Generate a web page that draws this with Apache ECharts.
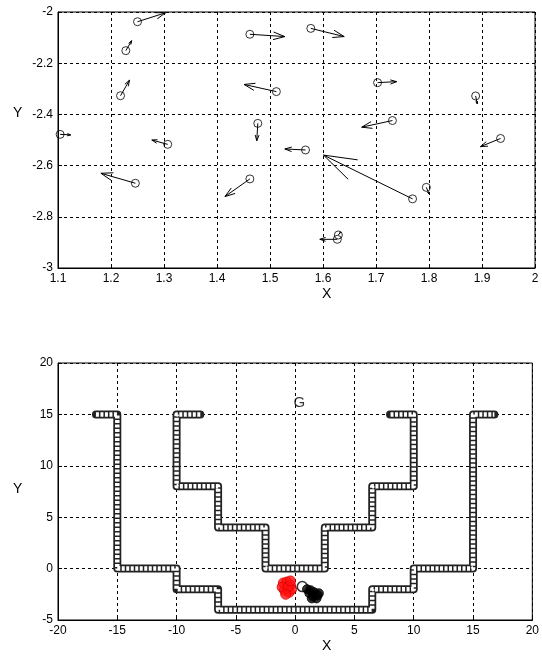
<!DOCTYPE html>
<html>
<head>
<meta charset="utf-8">
<script src="https://cdn.jsdelivr.net/npm/echarts@6/dist/echarts.min.js"></script>
<style>
html, body { margin: 0; padding: 0; background: #fff; }
#main { width: 542px; height: 657px; }
</style>
</head>
<body>
<div id="main"></div>
<script>
"use strict";
// 上图: quiver 点位与箭头终点
var qx   = [1.250, 1.228, 1.218, 1.104, 1.307, 1.462, 1.512, 1.477, 1.246, 1.462, 1.577, 1.703, 1.888, 1.731, 1.935, 1.567, 1.769, 1.795, 1.627, 1.629];
var qy   = [-2.038, -2.151, -2.327, -2.478, -2.517, -2.087, -2.311, -2.435, -2.669, -2.652, -2.064, -2.276, -2.328, -2.424, -2.494, -2.539, -2.730, -2.685, -2.888, -2.871];
var tipX = [1.303, 1.239, 1.235, 1.124, 1.277, 1.528, 1.451, 1.475, 1.181, 1.415, 1.640, 1.739, 1.891, 1.673, 1.897, 1.528, 1.601, 1.800, 1.594, 1.633];
var tipY = [-2.003, -2.112, -2.266, -2.480, -2.500, -2.096, -2.283, -2.503, -2.630, -2.721, -2.096, -2.272, -2.359, -2.450, -2.526, -2.535, -2.559, -2.711, -2.888, -2.860];

// 下图: 墙体折线拐点
var outerX = [-16.8, -15, -15, -10, -10, -6.5, -6.5, 6.5, 6.5, 10, 10, 15, 15, 16.8];
var outerY = [15, 15, 0, 0, -2, -2, -4, -4, -2, -2, 0, 0, 15, 15];
var innerX = [-8, -10, -10, -6.5, -6.5, -2.5, -2.5, 2.5, 2.5, 6.5, 6.5, 10, 10, 8];
var innerY = [15, 15, 8, 8, 4, 4, 0, 0, 4, 4, 8, 8, 15, 15];

// 机器人位置
var redX = [-1.0, -0.7, -0.4, -0.9, -0.5, -1.1, -0.3, -0.6, -0.8, -0.4];
var redY = [-1.4, -1.3, -1.6, -2.1, -2.3, -1.8, -2.0, -1.8, -2.5, -1.2];
var startX = [0.6];
var startY = [-1.75];
var blackX = [1.0, 1.3, 1.6, 1.9, 1.2, 1.5, 1.8, 2.0, 1.4];
var blackY = [-2.0, -2.1, -2.3, -2.6, -2.4, -2.7, -2.9, -2.4, -2.9];
var goal = [0.35, 16.1];

var xTicksTop = [1.1, 2, 0.1];
var yTicksTop = [-3, -2, 0.2];
var xTicksBot = [-20, 20, 5];
var yTicksBot = [-5, 20, 5];

function zip(a, b) {
    return a.map(function (v, i) { return [v, b[i]]; });
}

var chartDom = document.getElementById('main');
var myChart = echarts.init(chartDom);
var font = 'Liberation Sans, Arial, sans-serif';

function axis(t, idx) {
    return {
        type: 'value', gridIndex: idx,
        min: t[0], max: t[1], interval: t[2],
        axisLine: { show: true, onZero: false, lineStyle: { color: '#000', width: 1 } },
        axisTick: { show: true, inside: true, length: 4, lineStyle: { color: '#000' } },
        axisLabel: {
            color: '#000', fontSize: 12, fontFamily: font, margin: 5,
            formatter: function (v) { return String(Math.round(v * 10) / 10); }
        },
        splitLine: { show: true, lineStyle: { color: '#000', width: 1, type: [3, 3] } }
    };
}

var quiver = qx.map(function (x, i) { return [x, qy[i], tipX[i], tipY[i]]; });

var option = {
    backgroundColor: '#fff',
    animation: false,
    grid: [
        { left: 58, top: 12, width: 477, height: 256, show: true, borderColor: '#000', borderWidth: 1 },
        { left: 58, top: 363, width: 477, height: 257, show: true, borderColor: '#000', borderWidth: 1 }
    ],
    xAxis: [axis(xTicksTop, 0), axis(xTicksBot, 1)],
    yAxis: [axis(yTicksTop, 0), axis(yTicksBot, 1)],
    graphic: [
        { type: 'text', left: 322, top: 287, style: { text: 'X', font: '14px ' + font, fill: '#000' } },
        { type: 'text', left: 13, top: 106, style: { text: 'Y', font: '14px ' + font, fill: '#000' } },
        { type: 'text', left: 322, top: 639, style: { text: 'X', font: '14px ' + font, fill: '#000' } },
        { type: 'text', left: 13, top: 482, style: { text: 'Y', font: '14px ' + font, fill: '#000' } }
    ],
    series: [
        {
            type: 'custom', xAxisIndex: 0, yAxisIndex: 0, z: 3,
            data: quiver,
            renderItem: function (params, api) {
                var p0 = api.coord([api.value(0), api.value(1)]);
                var p1 = api.coord([api.value(2), api.value(3)]);
                var dx = p1[0] - p0[0], dy = p1[1] - p0[1];
                var a = 0.33, b = 0.33;
                var h1 = [p1[0] - a * (dx + b * dy), p1[1] - a * (dy - b * dx)];
                var h2 = [p1[0] - a * (dx - b * dy), p1[1] - a * (dy + b * dx)];
                var st = { stroke: '#000', lineWidth: 1, fill: null };
                return {
                    type: 'group',
                    children: [
                        { type: 'line', shape: { x1: p0[0], y1: p0[1], x2: p1[0], y2: p1[1] }, style: st },
                        { type: 'line', shape: { x1: p1[0], y1: p1[1], x2: h1[0], y2: h1[1] }, style: st },
                        { type: 'line', shape: { x1: p1[0], y1: p1[1], x2: h2[0], y2: h2[1] }, style: st }
                    ]
                };
            }
        },
        {
            type: 'scatter', xAxisIndex: 0, yAxisIndex: 0, z: 4,
            data: zip(qx, qy), symbol: 'circle', symbolSize: 8,
            itemStyle: { color: 'rgba(0,0,0,0)', borderColor: '#000', borderWidth: 1 }
        },
        {
            type: 'line', xAxisIndex: 1, yAxisIndex: 1, z: 3, showSymbol: false,
            data: zip(outerX, outerY),
            lineStyle: { color: '#222', width: 8, cap: 'round', join: 'round' }
        },
        {
            type: 'line', xAxisIndex: 1, yAxisIndex: 1, z: 3, showSymbol: false,
            data: zip(innerX, innerY),
            lineStyle: { color: '#222', width: 8, cap: 'round', join: 'round' }
        },
        {
            type: 'line', xAxisIndex: 1, yAxisIndex: 1, z: 4, showSymbol: false,
            data: zip(outerX, outerY),
            lineStyle: { color: '#fff', width: 4.5, type: [3, 1.5], cap: 'butt', join: 'round' }
        },
        {
            type: 'line', xAxisIndex: 1, yAxisIndex: 1, z: 4, showSymbol: false,
            data: zip(innerX, innerY),
            lineStyle: { color: '#fff', width: 4.5, type: [3, 1.5], cap: 'butt', join: 'round' }
        },
        {
            type: 'scatter', xAxisIndex: 1, yAxisIndex: 1, z: 5,
            data: zip(redX, redY), symbolSize: 10,
            itemStyle: { color: '#ff1010', borderColor: '#e00000', borderWidth: 1 }
        },
        {
            type: 'scatter', xAxisIndex: 1, yAxisIndex: 1, z: 5,
            data: zip(startX, startY), symbolSize: 10,
            itemStyle: { color: '#fff', borderColor: '#000', borderWidth: 1.5 }
        },
        {
            type: 'scatter', xAxisIndex: 1, yAxisIndex: 1, z: 6,
            data: zip(blackX, blackY), symbolSize: 9,
            itemStyle: { color: '#000', borderColor: '#000', borderWidth: 1 }
        },
        {
            type: 'scatter', xAxisIndex: 1, yAxisIndex: 1, z: 6,
            data: [goal], symbolSize: 0,
            label: { show: true, position: 'inside', formatter: 'G', color: '#000', fontSize: 15, fontFamily: font }
        }
    ]
};
myChart.setOption(option);
</script>
</body>
</html>
